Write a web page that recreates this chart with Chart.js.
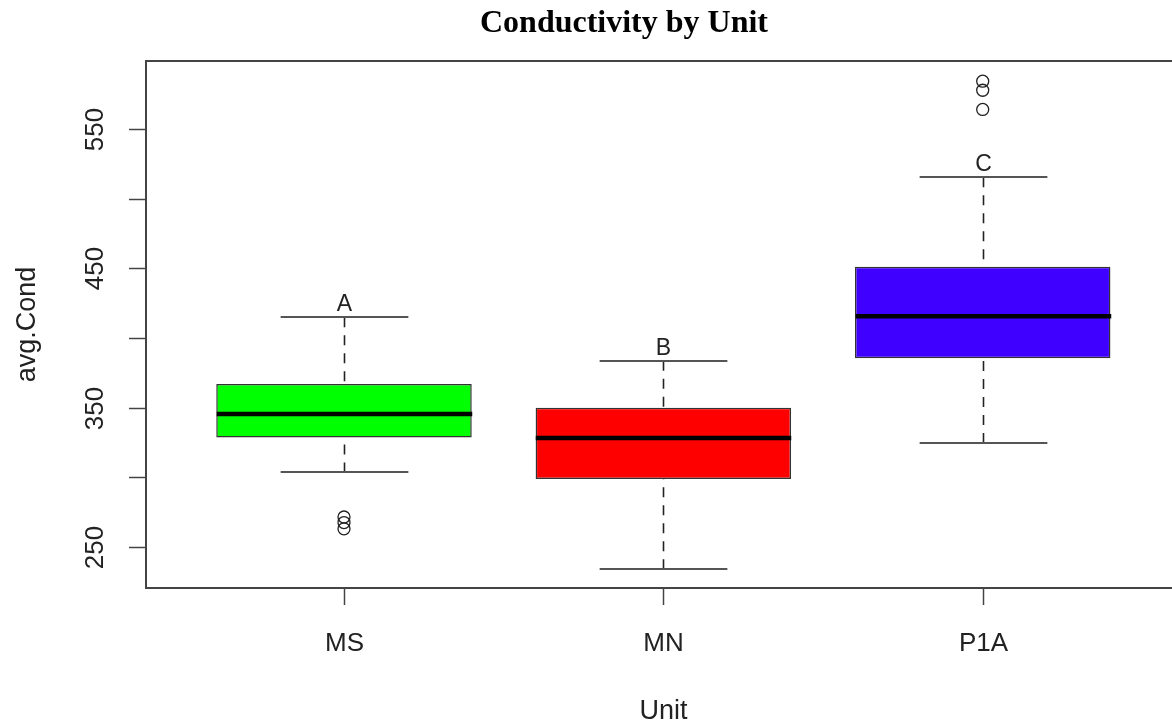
<!DOCTYPE html>
<html>
<head>
<meta charset="utf-8">
<title>Conductivity by Unit</title>
<script src="https://cdn.jsdelivr.net/npm/chart.js@4.4.1/dist/chart.umd.min.js"></script>
<style>
  html, body { margin: 0; padding: 0; background: #fff; overflow: hidden; }
  canvas { display: block; }
</style>
</head>
<body>
<canvas id="boxChart" width="1188" height="723"></canvas>
<script>
// Boxplot stats
const units = ['MS', 'MN', 'P1A'];
const groupLetters = ['A', 'B', 'C'];
const whiskerLow = [303.5, 234, 324.6];
const q1 = [328.6, 298.7, 385.5];
const median = [345.5, 328.3, 415.7];
const q3 = [367.1, 350, 451.2];
const whiskerHigh = [415, 383.8, 515.5];
const outliersMS = [271.5, 267.5, 263];
const outliersMN = [];
const outliersP1A = [584.5, 578, 564.2];
const yTicks = [250, 300, 350, 400, 450, 500, 550];
const yTickLabels = ['250', '', '350', '', '450', '', '550'];
const boxColors = ['#00ff00', '#ff0000', '#3f00ff'];

const outlierPoints = [];
[outliersMS, outliersMN, outliersP1A].forEach((list, i) => {
    list.forEach(v => outlierPoints.push({ x: i + 1, y: v }));
});

const sansFont = '"Liberation Sans", Arial, sans-serif';

// whiskers, caps, medians, letters and the R-style axes
const boxplotExtras = {
    id: 'boxplotExtras',
    afterDatasetsDraw(chart) {
        const { ctx, scales: { x, y } } = chart;
        ctx.save();
        units.forEach((u, i) => {
            const cx = Math.round(x.getPixelForValue(i + 1)) + 0.5;
            const half = x.getPixelForValue(i + 1.4) - x.getPixelForValue(i + 1);
            const capHalf = half / 2;

            // dashed whiskers, drawn from the cap toward the box
            ctx.strokeStyle = '#222';
            ctx.lineWidth = 1.6;
            ctx.setLineDash([10, 8]);
            [[whiskerHigh[i], q3[i]], [whiskerLow[i], q1[i]]].forEach(([a, b]) => {
                ctx.beginPath();
                ctx.moveTo(cx, y.getPixelForValue(a));
                ctx.lineTo(cx, y.getPixelForValue(b));
                ctx.stroke();
            });
            ctx.setLineDash([]);

            // caps
            ctx.strokeStyle = '#555';
            ctx.lineWidth = 2;
            [whiskerHigh[i], whiskerLow[i]].forEach(v => {
                const py = Math.round(y.getPixelForValue(v));
                ctx.beginPath();
                ctx.moveTo(cx - capHalf, py);
                ctx.lineTo(cx + capHalf, py);
                ctx.stroke();
            });

            // median
            const my = y.getPixelForValue(median[i]);
            ctx.strokeStyle = '#000';
            ctx.lineWidth = 4.5;
            ctx.beginPath();
            ctx.moveTo(cx - half, my);
            ctx.lineTo(cx + half, my);
            ctx.stroke();

            // group letter above upper whisker
            ctx.fillStyle = '#222';
            ctx.font = '23px ' + sansFont;
            ctx.textAlign = 'center';
            ctx.textBaseline = 'alphabetic';
            ctx.fillText(groupLetters[i], cx, y.getPixelForValue(whiskerHigh[i]) - 6);
        });
        ctx.restore();
    },
    afterDraw(chart) {
        const { ctx, chartArea: area, scales: { x, y } } = chart;
        ctx.save();

        // frame
        ctx.strokeStyle = '#444';
        ctx.lineWidth = 2;
        ctx.strokeRect(area.left, area.top, area.right - area.left, area.bottom - area.top);

        // y ticks and rotated labels
        ctx.lineWidth = 1.5;
        ctx.fillStyle = '#222';
        ctx.font = '26px ' + sansFont;
        yTicks.forEach((v, i) => {
            const py = Math.round(y.getPixelForValue(v)) + 0.5;
            ctx.beginPath();
            ctx.moveTo(area.left - 17, py);
            ctx.lineTo(area.left, py);
            ctx.stroke();
            if (yTickLabels[i]) {
                ctx.save();
                ctx.translate(area.left - 43, py);
                ctx.rotate(-Math.PI / 2);
                ctx.textAlign = 'center';
                ctx.textBaseline = 'alphabetic';
                ctx.fillText(yTickLabels[i], 0, 0);
                ctx.restore();
            }
        });

        // x ticks and labels
        units.forEach((u, i) => {
            const px = Math.round(x.getPixelForValue(i + 1)) + 0.5;
            ctx.beginPath();
            ctx.moveTo(px, area.bottom);
            ctx.lineTo(px, area.bottom + 17);
            ctx.stroke();
            ctx.textAlign = 'center';
            ctx.textBaseline = 'alphabetic';
            ctx.fillText(u, px, area.bottom + 63);
        });

        // axis titles
        ctx.font = '27px ' + sansFont;
        ctx.textAlign = 'center';
        ctx.fillText('Unit', 663.5, 719);
        ctx.save();
        ctx.translate(35, (area.top + area.bottom) / 2);
        ctx.rotate(-Math.PI / 2);
        ctx.fillText('avg.Cond', 0, 0);
        ctx.restore();

        // main title
        ctx.fillStyle = '#000';
        ctx.font = 'bold 32px "Liberation Serif", "Times New Roman", serif';
        ctx.fillText('Conductivity by Unit', 624, 32);

        ctx.restore();
    }
};

const ctx = document.getElementById('boxChart').getContext('2d');
const boxChart = new Chart(ctx, {
    type: 'bar',
    data: {
        datasets: [
            {
                type: 'bar',
                data: units.map((u, i) => ({ x: i + 1, y: [q1[i], q3[i]] })),
                backgroundColor: boxColors,
                borderColor: '#333',
                borderWidth: 1.5,
                borderSkipped: false,
                barPercentage: 0.8,
                categoryPercentage: 1
            },
            {
                type: 'scatter',
                data: outlierPoints,
                pointStyle: 'circle',
                pointRadius: 6,
                backgroundColor: 'rgba(0,0,0,0)',
                borderColor: '#222',
                borderWidth: 1.3
            }
        ]
    },
    options: {
        responsive: false,
        animation: false,
        layout: {
            padding: { left: 146, right: 1, top: 61, bottom: 135 }
        },
        scales: {
            x: {
                type: 'linear',
                display: false,
                offset: false,
                min: 0.38,
                max: 3.62,
                afterBuildTicks: scale => {
                    scale.ticks = units.map((u, i) => ({ value: i + 1 }));
                }
            },
            y: {
                type: 'linear',
                display: false,
                min: 220.5,
                max: 599
            }
        },
        plugins: {
            legend: { display: false },
            title: { display: false },
            tooltip: { enabled: false }
        }
    },
    plugins: [boxplotExtras]
});
</script>
</body>
</html>
